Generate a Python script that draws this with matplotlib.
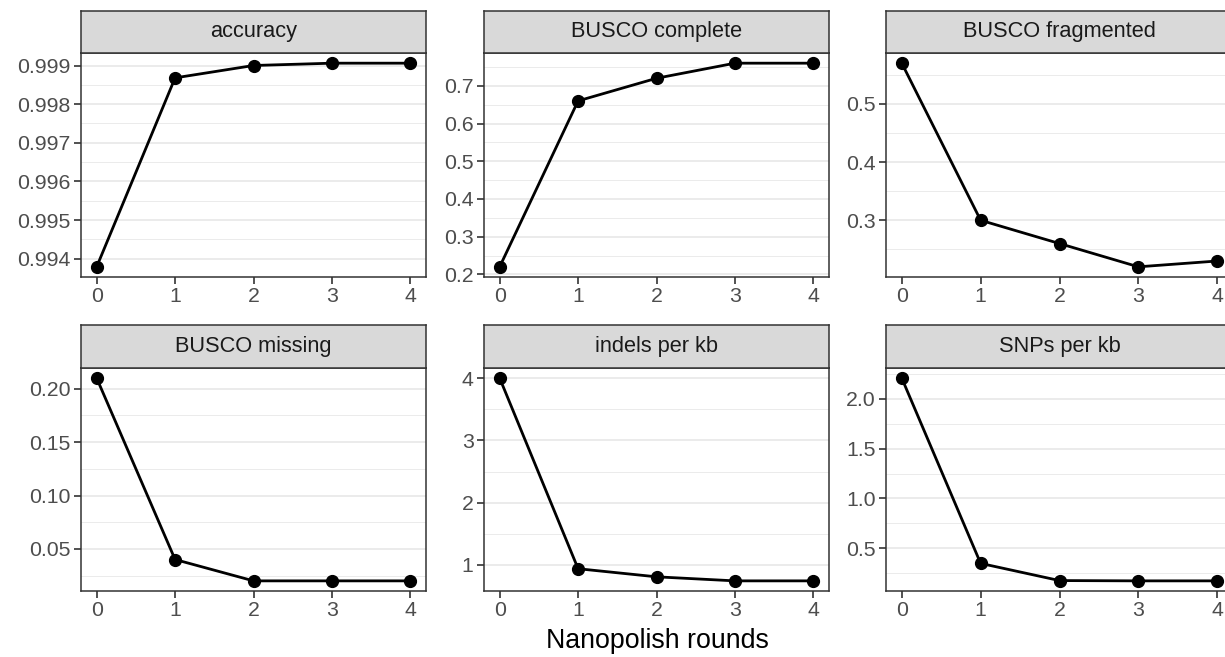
import matplotlib
matplotlib.use("Agg")
import matplotlib.pyplot as plt
import numpy as np

plt.rcParams['font.family'] = ['Liberation Sans', 'DejaVu Sans']

# Nanopolish rounds on the x axis
rounds = [0, 1, 2, 3, 4]

# one series per facet
accuracy = [0.99379, 0.99868, 0.99900, 0.99906, 0.99906]
busco_complete = [0.22, 0.66, 0.72, 0.76, 0.76]
busco_fragmented = [0.57, 0.30, 0.26, 0.22, 0.23]
busco_missing = [0.21, 0.04, 0.02, 0.02, 0.02]
indels_per_kb = [4.0, 0.94, 0.81, 0.745, 0.745]
snps_per_kb = [2.205, 0.35, 0.178, 0.175, 0.175]

facet_titles = ['accuracy', 'BUSCO complete', 'BUSCO fragmented',
                'BUSCO missing', 'indels per kb', 'SNPs per kb']
facet_values = [accuracy, busco_complete, busco_fragmented,
                busco_missing, indels_per_kb, snps_per_kb]

# y breaks and their labels for each facet
y_breaks = [
    [0.994, 0.995, 0.996, 0.997, 0.998, 0.999],
    [0.2, 0.3, 0.4, 0.5, 0.6, 0.7],
    [0.3, 0.4, 0.5],
    [0.05, 0.10, 0.15, 0.20],
    [1, 2, 3, 4],
    [0.5, 1.0, 1.5, 2.0],
]
y_labels = [
    ['0.994', '0.995', '0.996', '0.997', '0.998', '0.999'],
    ['0.2', '0.3', '0.4', '0.5', '0.6', '0.7'],
    ['0.3', '0.4', '0.5'],
    ['0.05', '0.10', '0.15', '0.20'],
    ['1', '2', '3', '4'],
    ['0.5', '1.0', '1.5', '2.0'],
]

W, H = 1225, 657
fig = plt.figure(figsize=(W / 100, H / 100), dpi=100)

# panel boxes in pixels: (left, right) per column, (strip top, panel top, panel bottom) per row
cols = [(81, 426), (484, 829), (886, 1233)]
rows = [(11, 53, 277), (325, 368, 591)]

border = '#333333'
grid = '#EBEBEB'

for i, (title, vals) in enumerate(zip(facet_titles, facet_values)):
    r, c = divmod(i, 3)
    x0, x1 = cols[c]
    st, pt, pb = rows[r]
    ax = fig.add_axes([x0 / W, 1 - pb / H, (x1 - x0) / W, (pb - pt) / H])
    sx = fig.add_axes([x0 / W, 1 - pt / H, (x1 - x0) / W, (pt - st) / H])

    ax.plot(rounds, vals, color='black', lw=2, marker='o', ms=8.5, zorder=3, clip_on=False)

    lo, hi = min(vals), max(vals)
    pad = (hi - lo) * 0.05
    ax.set_ylim(lo - pad, hi + pad)
    ax.set_xlim(-0.2, 4.2)

    brk = y_breaks[i]
    step = brk[1] - brk[0]
    minors = np.arange(brk[0] - step / 2, brk[-1] + step, step)
    for m in minors:
        ax.axhline(m, color=grid, lw=0.7, zorder=1)
    for b in brk:
        ax.axhline(b, color=grid, lw=1.4, zorder=1)

    ax.set_yticks(brk)
    ax.set_yticklabels(y_labels[i])
    ax.set_xticks(rounds)
    ax.set_xticklabels([str(x) for x in rounds])
    ax.tick_params(axis='both', colors=border, labelcolor='#4D4D4D', labelsize=15.3,
                   length=5, width=1.2, pad=2.5)
    for sp in ax.spines.values():
        sp.set_color(border)
        sp.set_linewidth(1.1)

    sx.set_facecolor('#D9D9D9')
    sx.set_xticks([])
    sx.set_yticks([])
    for sp in sx.spines.values():
        sp.set_color(border)
        sp.set_linewidth(1.1)
    sx.text(0.5, 0.5, title, transform=sx.transAxes, ha='center', va='center',
            fontsize=15.7, color='#1A1A1A')

fig.text(657 / W, 1 - 648 / H, 'Nanopolish rounds', ha='center', va='baseline',
         fontsize=19.3, color='black')

fig.savefig('out.png', dpi=100)
